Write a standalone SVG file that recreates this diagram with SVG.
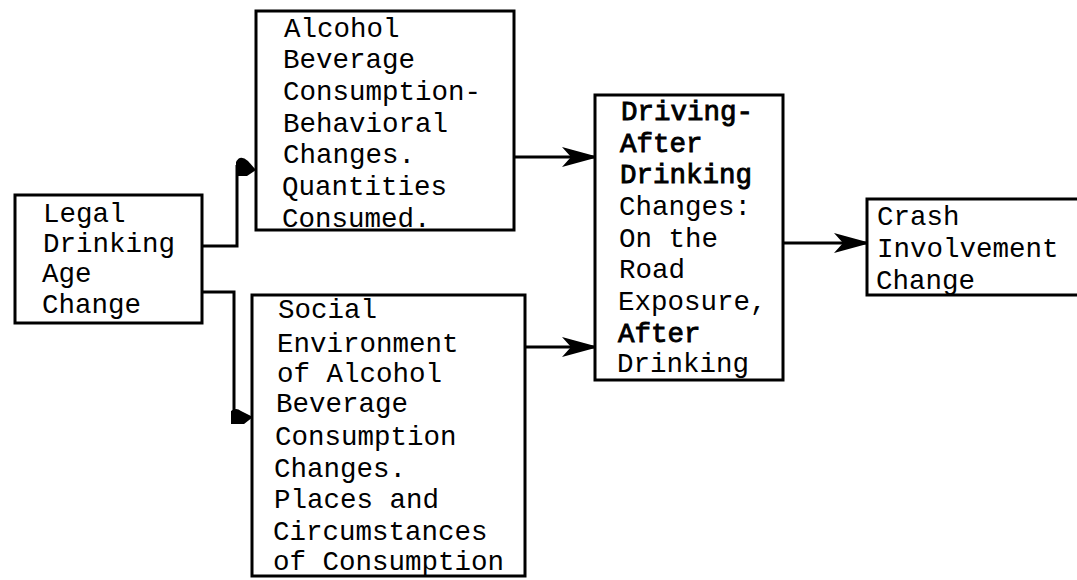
<svg xmlns="http://www.w3.org/2000/svg" width="1077" height="580" viewBox="0 0 1077 580">
<style>
.box{fill:#fff;stroke:#000;stroke-width:3}
.t{font-family:"Liberation Mono","Courier New",monospace;font-size:27.5px;fill:#000}
.b{stroke:#000;stroke-width:0.9}
.ln{fill:none;stroke:#000;stroke-width:3}
.ah{fill:#000;stroke:none}
</style>
<defs>
<marker id="arr" markerUnits="userSpaceOnUse" markerWidth="36" markerHeight="22" refX="33" refY="11" orient="auto">
<path d="M0,1 L33,10 L33,12 L0,21 L9,11 Z" fill="#000"/>
</marker>
</defs>
<rect width="1077" height="580" fill="#fff"/>
<g id="connectors">
<path class="ln" d="M202,246 H237 V165"/>
<path class="ah" d="M236,176 L236,162 Q240,154 248,161 L256,170 L247,176 Z"/>
<path class="ln" d="M202,292 H234 V420"/>
<path class="ah" d="M231,424 L231,411 Q236,407 241,411 L253,417 L244,424 Z"/>
<path class="ln" d="M513,157 H595" marker-end="url(#arr)"/>
<path class="ln" d="M524,347 H595" marker-end="url(#arr)"/>
<path class="ln" d="M783,243 H867" marker-end="url(#arr)"/>
</g>
<g id="legal">
<rect class="box" x="15" y="195" width="187" height="128"/>
<text class="t" x="43" y="222">Legal</text>
<text class="t" x="43" y="252">Drinking</text>
<text class="t" x="42" y="282">Age</text>
<text class="t" x="42" y="313">Change</text>
</g>
<g id="alcohol">
<rect class="box" x="256" y="11" width="258" height="219"/>
<text class="t" x="284" y="37">Alcohol</text>
<text class="t" x="283" y="68">Beverage</text>
<text class="t" x="283" y="100">Consumption-</text>
<text class="t" x="283" y="132">Behavioral</text>
<text class="t" x="283" y="163">Changes.</text>
<text class="t" x="282" y="195">Quantities</text>
<text class="t" x="282" y="227">Consumed.</text>
</g>
<g id="social">
<rect class="box" x="252" y="295" width="273" height="281"/>
<text class="t" x="278" y="318">Social</text>
<text class="t" x="277" y="352">Environment</text>
<text class="t" x="277" y="382">of Alcohol</text>
<text class="t" x="276" y="412">Beverage</text>
<text class="t" x="275" y="445">Consumption</text>
<text class="t" x="274" y="477">Changes.</text>
<text class="t" x="274" y="508">Places and</text>
<text class="t" x="273" y="540">Circumstances</text>
<text class="t" x="273" y="570">of Consumption</text>
</g>
<g id="driving">
<rect class="box" x="595" y="95" width="188" height="285"/>
<text class="t b" x="621" y="120">Driving-</text>
<text class="t b" x="620" y="152">After</text>
<text class="t b" x="620" y="183">Drinking</text>
<text class="t" x="619" y="215">Changes:</text>
<text class="t" x="619" y="247">On the</text>
<text class="t" x="619" y="278">Road</text>
<text class="t" x="618" y="310">Exposure,</text>
<text class="t b" x="618" y="342">After</text>
<text class="t" x="617" y="372">Drinking</text>
</g>
<g id="crash">
<rect class="box" x="867" y="199" width="230" height="96"/>
<text class="t" x="877" y="225">Crash</text>
<text class="t" x="877" y="257">Involvement</text>
<text class="t" x="876" y="289">Change</text>
</g>
</svg>
